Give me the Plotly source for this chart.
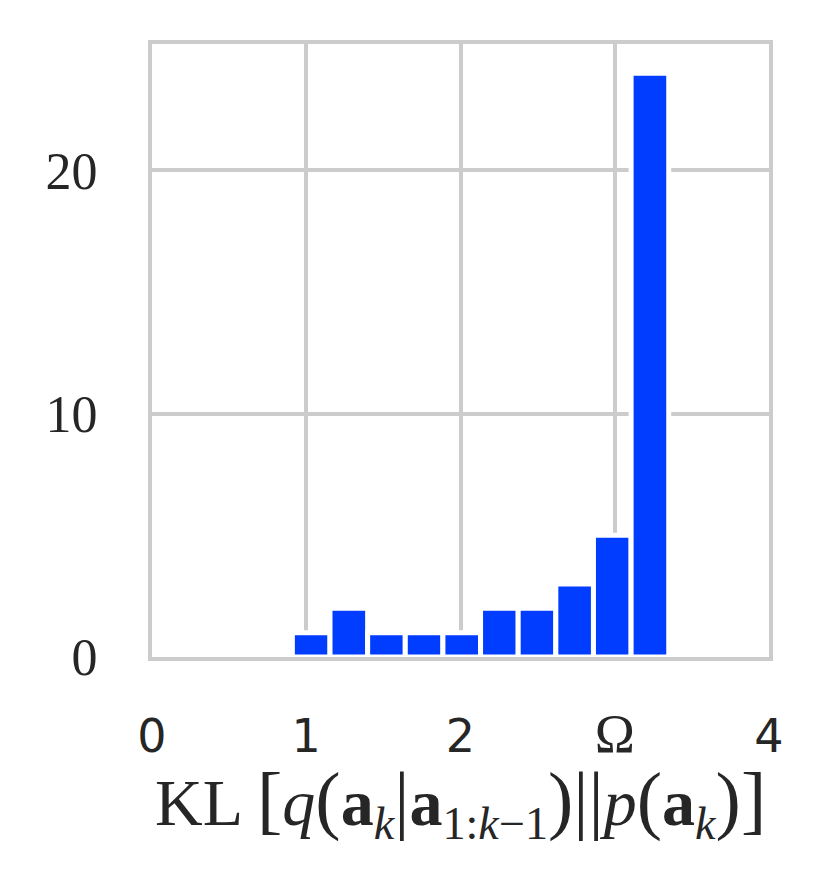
import plotly.graph_objects as go

# Histogram data (counts per bin)
counts = [1, 2, 1, 1, 1, 2, 2, 3, 5, 24]
bin_start = 0.91
bin_width = 0.244
bin_left = [bin_start + i * bin_width for i in range(len(counts))]

x_tickvals = [0, 1, 2, 3, 4]
x_ticktext = ["0", "1", "2", "<span style='font-family:Liberation Serif;font-size:54px'>Ω</span>", "4"]
y_tickvals = [0, 10, 20]
y_ticktext = ["0", "10", "20"]

fig = go.Figure()
fig.add_trace(go.Bar(
    x=bin_left, y=counts, width=[bin_width] * len(counts), offset=0,
    marker=dict(color="#003dff", line=dict(color="white", width=5)),
))

serif = "Liberation Serif"
sans = "DejaVu Sans"
big = "<span style='font-size:76px'>"

title = ("KL " + big + "[</span><i>q</i>" + big + "(</span><b>a</b><sub><i>k</i></sub>"
         + big + "|</span><b>a</b><sub>1:<i>k</i>−1</sub>" + big + ")||</span><i>p</i>"
         + big + "(</span><b>a</b><sub><i>k</i></sub>" + big + ")]</span>")

fig.update_layout(
    width=813, height=869,
    margin=dict(l=144, r=52, t=36, b=220),
    plot_bgcolor="white", paper_bgcolor="white",
    showlegend=False,
    xaxis=dict(
        range=[0, 4], tickvals=x_tickvals, ticktext=x_ticktext,
        showgrid=True, gridcolor="#cccccc", gridwidth=3.5,
        showline=True, mirror=True, linecolor="#cccccc", linewidth=4,
        zeroline=False, ticks="", ticklabelstandoff=36,
        tickfont=dict(family=sans, size=46, color="#262626"),
    ),
    yaxis=dict(
        range=[0, 25.2], tickvals=y_tickvals, ticktext=y_ticktext,
        showgrid=True, gridcolor="#cccccc", gridwidth=3.5,
        showline=True, mirror=True, linecolor="#cccccc", linewidth=4,
        zeroline=False, ticks="", ticklabelstandoff=40,
        tickfont=dict(family=serif, size=52, color="#262626"),
    ),
    annotations=[dict(
        text=title, xref="paper", yref="paper", x=0.5, y=0,
        xanchor="center", yanchor="bottom", yshift=-194, showarrow=False,
        font=dict(family=serif, size=66, color="#262626"),
    )],
)

fig.write_html("out.html")
